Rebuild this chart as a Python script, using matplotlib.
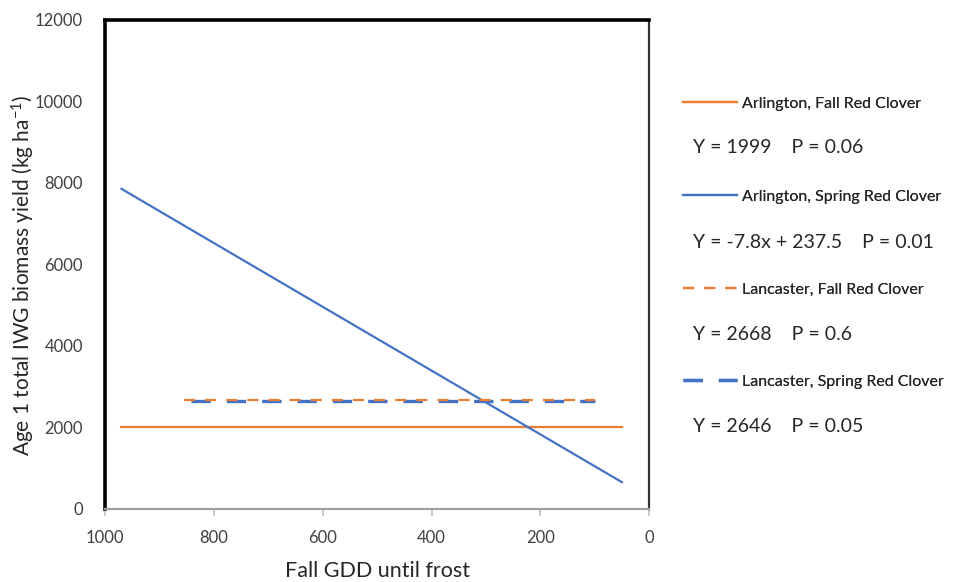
import matplotlib
matplotlib.use('Agg')
import matplotlib.pyplot as plt

plt.rcParams['font.family'] = ['Lato', 'DejaVu Sans']
plt.rcParams['mathtext.fontset'] = 'custom'
plt.rcParams['mathtext.rm'] = 'Lato'
plt.rcParams['mathtext.it'] = 'Lato:italic'

orange = '#ED7D31'
blue = '#4472C4'

# regression lines
arl_fall_x = [970, 50]
arl_fall_y = [1999, 1999]
arl_spring_x = [970, 50]
arl_spring_y = [7850, 650]
lan_fall_x = [855, 100]
lan_fall_y = [2668, 2668]
lan_spring_x = [842, 100]
lan_spring_y = [2646, 2646]

labels = ['Arlington, Fall Red Clover', 'Arlington, Spring Red Clover',
          'Lancaster, Fall Red Clover', 'Lancaster, Spring Red Clover']
equations = ['Y = 1999    P = 0.06', 'Y = -7.8x + 237.5    P = 0.01',
             'Y = 2668    P = 0.6', 'Y = 2646    P = 0.05']

xticks = [1000, 800, 600, 400, 200, 0]
yticks = [0, 2000, 4000, 6000, 8000, 10000, 12000]

fig = plt.figure(figsize=(9.56, 5.82), dpi=100)
ax = fig.add_axes([0.110, 0.126, 0.569, 0.840])

l1, = ax.plot(arl_fall_x, arl_fall_y, color=orange, lw=1.6, label=labels[0])
l2, = ax.plot(arl_spring_x, arl_spring_y, color=blue, lw=1.6, label=labels[1])
l4, = ax.plot(lan_spring_x, lan_spring_y, color=blue, lw=2.4, dashes=(5.8, 4.8),
              label=labels[3])
l3, = ax.plot(lan_fall_x, lan_fall_y, color=orange, lw=1.6, dashes=(5.0, 4.5),
              label=labels[2])

ax.set_xlim(1000, 0)
ax.set_ylim(0, 12000)
ax.set_xticks(xticks)
ax.set_yticks(yticks)
ax.tick_params(axis='y', length=0, pad=16, labelsize=12, labelcolor='#404040')
ax.tick_params(axis='x', length=5, width=1.2, color='#bfbfbf', pad=10,
               labelsize=12, labelcolor='#404040')

for s in ['left', 'top']:
    ax.spines[s].set_linewidth(2.6)
    ax.spines[s].set_color('black')
ax.spines['right'].set_linewidth(1.6)
ax.spines['right'].set_color('#303030')
ax.spines['bottom'].set_linewidth(1.6)
ax.spines['bottom'].set_color('#a0a0a0')

ax.set_xlabel('Fall GDD until frost', fontsize=15.5, color='#262626', va='center')
ax.xaxis.set_label_coords(0.5, -0.127)
ax.set_ylabel('Age 1 total IWG biomass yield (kg ha$^{-1}$)', fontsize=15,
              color='#262626', va='center')
ax.yaxis.set_label_coords(-0.150, 0.478)

# legend entries with equations in between
handles = [l1, l2, l3, l4]
ys = [0.822, 0.662, 0.502, 0.344]
eq_ys = [0.747, 0.584, 0.425, 0.268]
for h, lab, y in zip(handles, labels, ys):
    leg = fig.legend([h], [lab], loc='center left', bbox_to_anchor=(0.714, y),
                     frameon=False, fontsize=11.5, handlelength=3.4,
                     handletextpad=0.3, borderpad=0, borderaxespad=0)
    for t in leg.get_texts():
        t.set_color('#262626')
    fig.add_artist(leg)
for eq, y in zip(equations, eq_ys):
    fig.text(0.725, y, eq, fontsize=14, color='#262626', va='center', ha='left')

fig.savefig('out.png', dpi=100)
